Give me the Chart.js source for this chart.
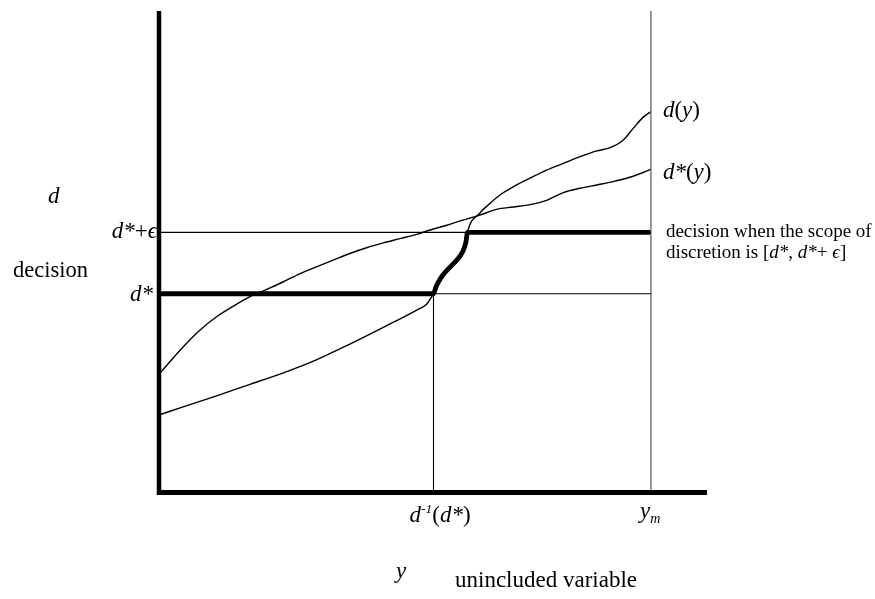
<!DOCTYPE html>
<html>
<head>
<meta charset="utf-8">
<script src="https://cdn.jsdelivr.net/npm/chart.js@4"></script>
<style>
  html, body { margin: 0; padding: 0; background: #fff; }
  .wrap { width: 875px; height: 599px; position: relative; }
</style>
</head>
<body>
<div class="wrap"><canvas id="chart"></canvas></div>
<script>
// ---- values (x: unincluded variable, y_m = 100; y: decision) ----
const dStarCurveX = [0, 4.9, 8.3, 11.7, 15.1, 18.5, 21.9, 25.3, 28.7, 32.0, 35.4, 38.8, 42.2, 45.6, 49.0, 52.4, 55.1, 58.5, 61.9, 65.2, 68.6, 72.0, 75.4, 78.8, 82.2, 85.6, 89.0, 92.3, 95.7, 98.4, 100];
const dStarCurveY = [24.2, 29.9, 33.4, 36.2, 38.4, 40.4, 41.9, 43.5, 45.2, 46.6, 48.0, 49.4, 50.6, 51.6, 52.5, 53.4, 54.3, 55.3, 56.4, 57.4, 58.6, 59.1, 59.6, 60.5, 62.1, 63.0, 63.7, 64.4, 65.3, 66.3, 67.0];

const dCurveX = [0, 4.9, 11.7, 18.5, 25.3, 32.0, 38.8, 45.6, 52.4, 54.4, 55.4, 55.8, 56.3, 57.0, 57.8, 59.1, 60.5, 61.7, 62.4, 62.7, 65.2, 66.9, 69.3, 72.7, 75.4, 78.8, 82.2, 85.6, 89.0, 91.7, 94.4, 96.4, 98.4, 100];
const dCurveY = [15.7, 17.4, 19.7, 22.1, 24.5, 27.2, 30.5, 34.0, 37.6, 38.8, 40.3, 41.0, 42.4, 43.8, 45.0, 46.5, 48.0, 49.7, 51.8, 53.8, 57.8, 59.5, 61.6, 63.7, 65.1, 66.8, 68.2, 69.6, 70.8, 71.5, 73.1, 75.5, 77.8, 79.0];

const dStar = 41.0;      // d*
const dStarEps = 53.8;   // d* + epsilon
const yM = 100;          // y_m
const xMax = 111.4;
const yMax = 100;
const yMin = -1;

const pts = (xs, ys) => xs.map((x, i) => ({ x, y: ys[i] }));
const dPts = pts(dCurveX, dCurveY);
const dInvX = dCurveX[dCurveY.indexOf(dStar)];

// decision when the scope of discretion is [d*, d*+eps]
const decisionPts = [{ x: 0, y: dStar }]
  .concat(dPts.filter(p => p.y >= dStar && p.y <= dStarEps))
  .concat([{ x: yM, y: dStarEps }]);

const SERIF = '"Liberation Serif", "DejaVu Serif", serif';
const fontOf = (size, it) => `${it ? 'italic ' : ''}${size}px ${SERIF}`;

function drawRuns(ctx, x, y, parts, align) {
  let total = 0;
  parts.forEach(p => { ctx.font = fontOf(p.s, p.i); total += ctx.measureText(p.t).width; });
  if (align === 'right') x -= total;
  parts.forEach(p => {
    ctx.font = fontOf(p.s, p.i);
    ctx.fillText(p.t, x, y + (p.dy || 0));
    x += ctx.measureText(p.t).width;
  });
}

const textPlugin = {
  id: 'texts',
  afterDraw(chart) {
    const { ctx, scales: { x, y } } = chart;
    ctx.save();
    ctx.fillStyle = '#000';
    ctx.textBaseline = 'alphabetic';
    const L = 23;

    // y-axis side
    drawRuns(ctx, 48, 203, [{ t: 'd', s: L, i: true }]);
    drawRuns(ctx, 13, 277, [{ t: 'decision', s: 22.5 }]);
    drawRuns(ctx, 157, y.getPixelForValue(dStarEps) + 6, [{ t: 'd*', s: L, i: true }, { t: '+', s: L }, { t: 'ϵ', s: L, i: true }], 'right');
    drawRuns(ctx, 153, y.getPixelForValue(dStar) + 7, [{ t: 'd*', s: L, i: true }], 'right');

    // curve names
    const xr = x.getPixelForValue(yM) + 12;
    drawRuns(ctx, xr, y.getPixelForValue(dCurveY[dCurveY.length - 1]) + 5,
      [{ t: 'd', s: L, i: true }, { t: '(', s: L }, { t: 'y', s: L, i: true }, { t: ')', s: L }]);
    drawRuns(ctx, xr, y.getPixelForValue(dStarCurveY[dStarCurveY.length - 1]) + 10,
      [{ t: 'd*', s: L, i: true }, { t: '(', s: L }, { t: 'y', s: L, i: true }, { t: ')', s: L }]);

    // annotation of the thick line
    const S = 19;
    const ya = y.getPixelForValue(dStarEps) + 5;
    drawRuns(ctx, xr + 3, ya, [{ t: 'decision when the scope of', s: S }]);
    drawRuns(ctx, xr + 3, ya + 21, [
      { t: 'discretion is [', s: S }, { t: 'd*', s: S, i: true }, { t: ', ', s: S },
      { t: 'd*', s: S, i: true }, { t: '+ ', s: S }, { t: 'ϵ', s: S, i: true }, { t: ']', s: S }]);

    // x-axis side
    const yb = y.getPixelForValue(0) + 32;
    drawRuns(ctx, x.getPixelForValue(dInvX) - 24, yb, [
      { t: 'd', s: L, i: true }, { t: '-1', s: 13.5, i: true, dy: -9 },
      { t: '(', s: L }, { t: 'd*', s: L, i: true }, { t: ')', s: L }]);
    drawRuns(ctx, x.getPixelForValue(yM) - 11, yb - 4, [
      { t: 'y', s: L, i: true }, { t: 'm', s: 14, i: true, dy: 5 }]);
    drawRuns(ctx, 396, 578, [{ t: 'y', s: L, i: true }]);
    drawRuns(ctx, 455, 587, [{ t: 'unincluded variable', s: 23 }]);
    ctx.restore();
  }
};

const line = (data, width, color, extra) => Object.assign({
  data, borderColor: color, borderWidth: width, pointRadius: 0,
  fill: false, tension: 0, borderCapStyle: 'butt', borderJoinStyle: 'round'
}, extra || {});

new Chart(document.getElementById('chart'), {
  type: 'scatter',
  data: {
    datasets: [
      // thin reference lines
      line([{ x: 0, y: dStar }, { x: yM, y: dStar }], 1.1, '#000'),
      line([{ x: 0, y: dStarEps }, { x: yM, y: dStarEps }], 1.1, '#000'),
      line([{ x: dInvX, y: 0 }, { x: dInvX, y: dStar }], 1.1, '#000'),
      line([{ x: yM, y: 0 }, { x: yM, y: yMax }], 1.4, '#6e6e6e'),
      // d*(y) and d(y)
      line(pts(dStarCurveX, dStarCurveY), 1.4, '#000', { cubicInterpolationMode: 'monotone' }),
      line(dPts, 1.4, '#000', { cubicInterpolationMode: 'monotone' }),
      // thick decision line
      line(decisionPts, 4.8, '#000', { cubicInterpolationMode: 'monotone' }),
      // axes
      line([{ x: 0, y: yMin }, { x: 0, y: yMax }], 4.5, '#000', { clip: false }),
      line([{ x: 0, y: -0.5 }, { x: xMax, y: -0.5 }], 5, '#000', { clip: false })
    ].map(ds => Object.assign(ds, { showLine: true }))
  },
  options: {
    responsive: true,
    maintainAspectRatio: false,
    animation: false,
    events: [],
    layout: { padding: { left: 159, right: 168, top: 11, bottom: 104 } },
    scales: {
      x: { type: 'linear', min: 0, max: xMax, display: false },
      y: { type: 'linear', min: yMin, max: yMax, display: false }
    },
    plugins: { legend: { display: false }, tooltip: { enabled: false } }
  },
  plugins: [textPlugin]
});
</script>
</body>
</html>
